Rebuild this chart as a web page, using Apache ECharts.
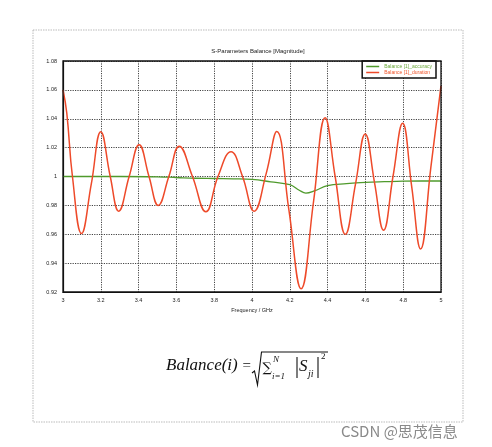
<!DOCTYPE html>
<html><head><meta charset="utf-8">
<script src="https://cdn.jsdelivr.net/npm/echarts@6/dist/echarts.min.js"></script>
<style>html,body{margin:0;padding:0;background:#fff}#c{width:492px;height:447px}</style>
</head><body><div id="c"></div>
<script>
const titleText = 'S-Parameters Balance [Magnitude]';
const xAxisName = 'Frequency / GHz';
const seriesNames = ['Balance [1]_accuracy', 'Balance [1]_duration'];
const xTicks = [3, 3.2, 3.4, 3.6, 3.8, 4, 4.2, 4.4, 4.6, 4.8, 5];
const yTicks = [0.92, 0.94, 0.96, 0.98, 1, 1.02, 1.04, 1.06, 1.08];
const greenData = [[3.0,1.0],[3.3,1.0],[3.5,0.9998],[3.6,0.9993],[3.7,0.9988],[3.8,0.9986],[3.9,0.9984],[4.0,0.998],[4.1,0.9963],[4.2,0.9943],[4.25,0.9905],[4.285,0.9885],[4.33,0.990],[4.4,0.9937],[4.5,0.995],[4.6,0.9959],[4.7,0.9964],[4.8,0.9968],[4.9,0.9969],[5.0,0.9969]];
const redData = [[3.000,1.060],[3.020,1.044],[3.050,1.000],[3.098,0.9605],[3.150,0.995],[3.200,1.031],[3.250,1.000],[3.295,0.976],[3.350,1.000],[3.403,1.022],[3.455,1.000],[3.504,0.980],[3.560,1.000],[3.615,1.021],[3.685,1.000],[3.756,0.9756],[3.820,1.000],[3.889,1.0172],[3.950,1.000],[4.011,0.976],[4.075,1.002],[4.131,1.0312],[4.195,0.977],[4.260,0.9223],[4.325,0.982],[4.387,1.0407],[4.440,1.000],[4.494,0.960],[4.548,0.995],[4.599,1.0295],[4.648,0.996],[4.696,0.9628],[4.746,1.000],[4.797,1.0368],[4.845,0.993],[4.892,0.9498],[4.946,1.006],[5.000,1.0628]];

const chart = echarts.init(document.getElementById('c'), null, {renderer:'canvas'});
const fmt = v => String(Math.round(v*100)/100);
chart.setOption({
  animation:false,
  backgroundColor:'#fff',
  title:{text:titleText,left:253,top:43,textAlign:'center',textStyle:{fontSize:6,fontWeight:'normal',color:'#222',fontFamily:'Liberation Sans'}},
  grid:{left:63,right:51,top:61,height:231,containLabel:false},
  legend:{
    right:56,top:61,orient:'vertical',itemGap:1,padding:[3,4,3,4],
    borderColor:'#111',borderWidth:1.5,backgroundColor:'#fff',
    icon:'rect',itemWidth:13,itemHeight:1.5,
    textStyle:{fontSize:5,fontFamily:'Liberation Sans'},
    data:[{name:seriesNames[0],textStyle:{color:'#6aa83a'}},{name:seriesNames[1],textStyle:{color:'#f0562c'}}]
  },
  xAxis:{type:'value',min:3,max:5,interval:0.2,name:xAxisName,nameLocation:'middle',nameGap:14,
    nameTextStyle:{fontSize:5.5,color:'#222',fontFamily:'Liberation Sans'},
    axisLine:{show:true,lineStyle:{color:'#111',width:1.2}},axisTick:{show:false},
    axisLabel:{fontSize:5.5,color:'#222',margin:5,formatter:fmt,fontFamily:'Liberation Sans'},
    splitLine:{show:true,lineStyle:{color:'#444',type:[1.2,1.2],width:1}}},
  yAxis:{type:'value',min:0.92,max:1.08,interval:0.02,
    axisLine:{show:true,lineStyle:{color:'#111',width:1.2}},axisTick:{show:false},
    axisLabel:{fontSize:5.5,color:'#222',margin:6,formatter:fmt,fontFamily:'Liberation Sans'},
    splitLine:{show:true,lineStyle:{color:'#444',type:[1.2,1.2],width:1}}},
  series:[
    {name:seriesNames[0],type:'line',data:greenData,smooth:0.4,showSymbol:false,symbol:'none',
     lineStyle:{color:'#4f9a2c',width:1.3},itemStyle:{color:'#4f9a2c'},z:2},
    {name:seriesNames[1],type:'line',data:redData,smooth:0.45,showSymbol:false,symbol:'none',
     lineStyle:{color:'#ee4a2a',width:1.5},itemStyle:{color:'#ee4a2a'},z:3}
  ],
  graphic:[
    {type:'rect',shape:{x:63,y:61,width:378,height:231},style:{fill:null,stroke:'#111',lineWidth:1.3},z:10,silent:true},
    {type:'rect',shape:{x:33,y:30,width:430,height:392},style:{fill:null,stroke:'#bbb',lineWidth:1,lineDash:[1.5,1]},z:1,silent:true},
    {type:'text',x:166,y:366,style:{text:'Balance(i)',font:'italic 17px "Liberation Serif"',fill:'#111',textVerticalAlign:'middle'}},
    {type:'text',x:242.5,y:366,style:{text:'=',font:'15px "Liberation Serif"',fill:'#111',textVerticalAlign:'middle'}},
    {type:'polyline',shape:{points:[[252,373],[254.5,371],[257.5,385],[261.5,352],[328,352]]},style:{stroke:'#111',lineWidth:1.1,fill:null}},
    {type:'text',x:262.5,y:369,style:{text:'∑',font:'13px "DejaVu Serif"',fill:'#111',textVerticalAlign:'middle'}},
    {type:'text',x:273,y:360,style:{text:'N',font:'italic 9px "Liberation Serif"',fill:'#111',textVerticalAlign:'middle'}},
    {type:'text',x:272,y:377,style:{text:'i=1',font:'italic 9px "Liberation Serif"',fill:'#111',textVerticalAlign:'middle'}},
    {type:'polyline',shape:{points:[[297,357],[297,378]]},style:{stroke:'#111',lineWidth:1.1,fill:null}},
    {type:'text',x:299,y:367,style:{text:'S',font:'italic 17px "Liberation Serif"',fill:'#111',textVerticalAlign:'middle'}},
    {type:'text',x:308,y:374,style:{text:'ji',font:'italic 10px "Liberation Serif"',fill:'#111',textVerticalAlign:'middle'}},
    {type:'polyline',shape:{points:[[318,357],[318,378]]},style:{stroke:'#111',lineWidth:1.1,fill:null}},
    {type:'text',x:321,y:357,style:{text:'2',font:'9px "Liberation Serif"',fill:'#111',textVerticalAlign:'middle'}},
    {type:'text',x:341,y:431,style:{text:'CSDN @思茂信息',font:'15px "Noto Sans CJK SC"',fill:'#8a8a8a',textVerticalAlign:'middle'}}
  ]
});
</script></body></html>
